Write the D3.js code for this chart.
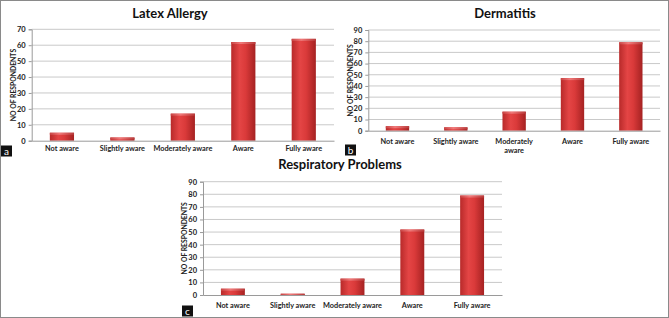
<!DOCTYPE html>
<html><head><meta charset="utf-8">
<script src="https://cdn.jsdelivr.net/npm/d3@7"></script>
<style>
body{margin:0;background:#fff;}
text{font-family:Lato,"Open Sans",sans-serif;}
</style></head>
<body><svg id="c" width="669" height="318"></svg>
<script>
const categories = ["Not aware","Slightly aware","Moderately aware","Aware","Fully aware"];
const latexValues = [5, 2, 17, 62, 64];
const dermatitisValues = [4, 3, 17, 47, 79];
const respiratoryValues = [5, 1, 13, 52, 79];
const latexTicks = [0,10,20,30,40,50,60,70];
const ninetyTicks = [0,10,20,30,40,50,60,70,80,90];
const titles = ["Latex Allergy","Dermatitis","Respiratory Problems"];
const panelLetters = ["a","b","c"];
const yTitle = "NO OF RESPONDENTS";

const svg = d3.select("#c");
const defs = svg.append("defs");
const g1 = defs.append("linearGradient").attr("id","barGrad").attr("x1","0").attr("x2","1").attr("y1","0").attr("y2","0");
g1.append("stop").attr("offset","0").attr("stop-color","#b82a2a");
g1.append("stop").attr("offset","0.35").attr("stop-color","#e44545");
g1.append("stop").attr("offset","0.6").attr("stop-color","#da3a3a");
g1.append("stop").attr("offset","1").attr("stop-color","#a52222");
const g2 = defs.append("linearGradient").attr("id","capGrad").attr("x1","0").attr("x2","1").attr("y1","0").attr("y2","0");
g2.append("stop").attr("offset","0").attr("stop-color","#c84444");
g2.append("stop").attr("offset","0.4").attr("stop-color","#f07a7a");
g2.append("stop").attr("offset","1").attr("stop-color","#b83a3a");

const panels = [
  {values: latexValues, ticks: latexTicks, max:70, x0:31.7, x1:334, y0:140.7, y1:29.3, titleX:170, titleY:18, yTitleX:13, wrap:999, labelY:151, letterX:1, letterY:145.5, title:0},
  {values: dermatitisValues, ticks: ninetyTicks, max:90, x0:368.3, x1:660, y0:130.7, y1:30, titleX:505, titleY:18, yTitleX:350, wrap:52, labelY:143.5, letterX:345, letterY:144.5, title:1},
  {values: respiratoryValues, ticks: ninetyTicks, max:90, x0:203, x1:502, y0:295, y1:181.7, titleX:340, titleY:169, yTitleX:184, wrap:999, labelY:307.5, letterX:182, letterY:305.5, title:2}
];

panels.forEach((p,i)=>{
  const g = svg.append("g");
  const x = d3.scaleBand().domain(categories).range([p.x0,p.x1]).paddingInner(0.6).paddingOuter(0.3);
  const y = d3.scaleLinear().domain([0,p.max]).range([p.y0,p.y1]);
  g.selectAll("line.grid").data(p.ticks.filter(t=>t>0)).join("line")
    .attr("x1",p.x0).attr("x2",p.x1).attr("y1",d=>y(d)).attr("y2",d=>y(d))
    .attr("stroke","#c9c9c9").attr("stroke-width",1);
  const ya = g.append("g").attr("transform",`translate(${p.x0},0)`)
    .call(d3.axisLeft(y).tickValues(p.ticks).tickSize(3).tickPadding(3));
  ya.select(".domain").attr("stroke","#9a9a9a");
  ya.selectAll(".tick line").attr("stroke","#9a9a9a");
  ya.selectAll(".tick text").attr("font-size","7.5px").attr("font-weight","bold").attr("fill","#222");
  const bars = g.selectAll("g.bar").data(p.values).join("g");
  bars.append("rect")
    .attr("x",(d,k)=>x(categories[k])).attr("width",x.bandwidth())
    .attr("y",d=>y(d)).attr("height",d=>p.y0-y(d))
    .attr("fill","url(#barGrad)");
  bars.append("rect")
    .attr("x",(d,k)=>x(categories[k])).attr("width",x.bandwidth())
    .attr("y",d=>y(d)).attr("height",d=>Math.min(2,p.y0-y(d)))
    .attr("fill","url(#capGrad)");
  const xa = g.append("g").attr("transform",`translate(0,${p.y0})`)
    .call(d3.axisBottom(x).tickSize(0).tickFormat(""));
  xa.select(".domain").attr("stroke","#9a9a9a");
  categories.forEach(c=>{
    const t = g.append("text").attr("x",x(c)+x.bandwidth()/2).attr("y",p.labelY)
      .attr("text-anchor","middle").attr("font-size","7.3px").attr("font-weight","bold").attr("fill","#222").text(c);
    if (t.node().getComputedTextLength() > p.wrap) {
      const words = c.split(" ");
      t.text(null);
      words.forEach((w,k)=>t.append("tspan").attr("x",x(c)+x.bandwidth()/2).attr("dy",k===0?0:9).text(w));
    }
  });
  g.append("text").attr("x",p.titleX).attr("y",p.titleY).attr("text-anchor","middle")
    .attr("font-size","13px").attr("font-weight","bold").attr("fill","#111").text(titles[p.title]);
  g.append("text").attr("transform",`translate(${p.yTitleX+2.5},${(p.y0+p.y1)/2}) rotate(-90)`)
    .attr("text-anchor","middle").attr("font-size","6.8px").attr("font-weight","bold").attr("fill","#222").text(yTitle);
  g.append("rect").attr("x",p.letterX).attr("y",p.letterY).attr("width",11).attr("height",11).attr("fill","#111");
  g.append("text").attr("x",p.letterX+5.5).attr("y",p.letterY+9).attr("text-anchor","middle")
    .attr("font-size","10px").attr("fill","#fff").text(panelLetters[i]);
});
svg.append("rect").attr("x",0.5).attr("y",0.5).attr("width",668).attr("height",317)
  .attr("fill","none").attr("stroke","#8a8a8a").attr("stroke-width",1);
</script></body></html>
